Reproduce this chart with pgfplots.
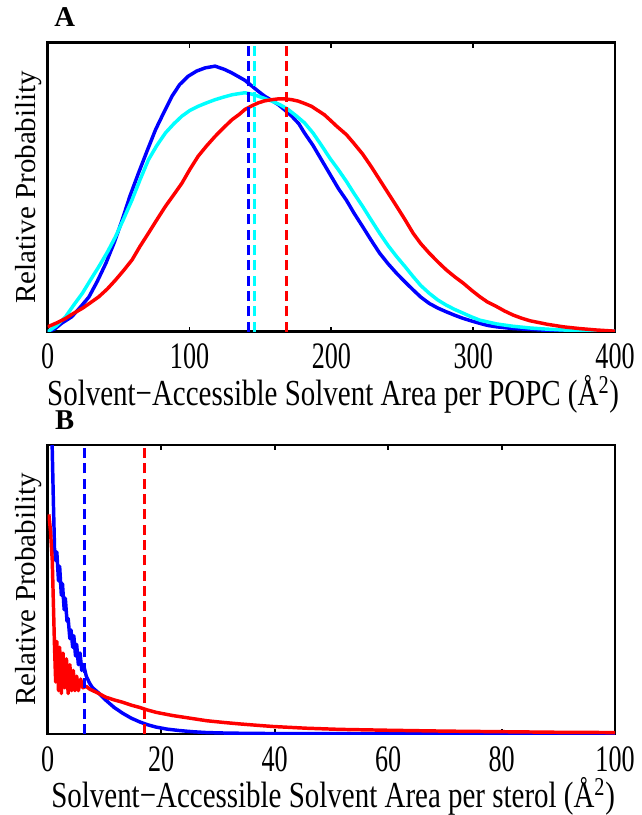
\documentclass[border=0pt]{standalone}
\usepackage{pgfplots}
\pgfplotsset{compat=1.18}
\usepackage{fontspec}
\setmainfont[FakeStretch=0.79]{Liberation Serif}
\newfontfamily\tickfont[FakeStretch=0.70]{Liberation Serif}
\newfontfamily\plainfont{Liberation Serif}
\definecolor{mblue}{rgb}{0,0,1}
\definecolor{mcyan}{rgb}{0,1,1}
\definecolor{mred}{rgb}{1,0,0}
\pgfplotsset{
  myaxis/.style={
    scale only axis, width=425.5pt, height=216.75pt,
    xmin=0, ymin=0, ymax=1,
    ytick=\empty,
    axis line style={line width=2pt},
    tick style={line width=1.4pt, black},
    major tick length=3.75pt,
    tick align=inside,
    xtick pos=both,
    xticklabel pos=lower,
    /pgf/number format/assume math mode=true,
    xticklabel style={font=\tickfont\fontsize{28}{28}\selectfont, anchor=base, yshift=-27.75pt},
    xlabel style={font=\fontsize{27.5}{27.5}\selectfont, at={(axis description cs:0.503,-0.255)}, anchor=base},
    ylabel style={font=\plainfont\fontsize{21.75}{21.75}\selectfont, at={(axis description cs:-0.033,0.5)}, anchor=center},
    every axis title shift=0pt,
    title style={font=\plainfont\fontsize{21.5}{21.5}\selectfont\bfseries, at={(axis description cs:0.030,1)}, anchor=base, yshift=12pt},
    ylabel={Relative Probability},
  },
  curve/.style={line width=2.6pt, line join=round},
  vline/.style={line width=2pt, dash pattern=on 7.5pt off 4pt},
}
\begin{document}
\begin{tikzpicture}
\useasboundingbox (0,0) rectangle (481.5pt,-611.25pt);
\begin{axis}[myaxis, at={(35.8pt,-248.8pt)}, anchor=south west,
  xmax=400, xtick={0,100,200,300,400},
  title={A},
  xlabel={Solvent−Accessible Solvent Area per POPC (Å\textsuperscript{2})}]
\addplot[curve, mblue] coordinates {
(0,0) (5,0.01) (10,0.03) (17,0.052) (23,0.085) (29,0.12) (35,0.175) (41,0.237) (47,0.31) (52.5,0.387)
(58,0.47) (64,0.549) (70,0.625) (76,0.699) (82,0.76) (87.6,0.815) (93,0.855) (99,0.884) (105,0.902)
(111,0.913) (118,0.919) (125,0.907) (130,0.895) (134,0.884) (139,0.87) (144,0.85) (149,0.83) (153,0.815)
(158,0.8) (162.5,0.786) (167,0.768) (172,0.746) (177,0.72) (181,0.688) (187,0.645) (193,0.595) (199,0.545)
(205,0.495) (210.6,0.455) (216,0.41) (222,0.364) (228,0.317) (234,0.272) (240,0.235) (246,0.202) (252,0.172)
(257.6,0.145) (263,0.12) (269,0.098) (275,0.082) (281,0.069) (287,0.057) (293,0.046) (299,0.037)
(304.7,0.029) (310,0.022) (316.5,0.017) (328,0.011) (340,0.008) (352,0.005) (363.5,0.003) (380,0.0015) (400,0.001)};
\addplot[curve, mcyan] coordinates {
(0,0) (6,0.02) (12.6,0.052) (18,0.09) (24.4,0.133) (30,0.178) (36,0.225) (42,0.275) (47.8,0.329)
(53.5,0.39) (59.5,0.457) (65,0.525) (71,0.595) (77,0.645) (83,0.688) (89,0.72) (94.6,0.746) (100,0.765)
(106,0.78) (112,0.792) (118,0.803) (124,0.812) (130,0.82) (135,0.824) (139,0.827) (144,0.822) (148.5,0.815)
(153,0.807) (158,0.798) (164,0.785) (169.5,0.769) (175,0.748) (181,0.723) (187,0.688) (193,0.645) (199,0.6)
(205,0.56) (210.6,0.52) (216,0.478) (222,0.434) (228,0.387) (234,0.341) (240,0.298) (246,0.26) (252,0.225)
(257.6,0.191) (263,0.16) (269,0.133) (275,0.11) (281,0.092) (287,0.077) (293,0.064) (299,0.051) (304.7,0.04)
(316.5,0.027) (328,0.019) (340,0.013) (352,0.009) (363.5,0.006) (380,0.003) (400,0.001)};
\addplot[curve, mred] coordinates {
(0,0.017) (6,0.03) (12.6,0.046) (18,0.063) (24.4,0.081) (30,0.1) (36,0.121) (42,0.148) (47.8,0.179)
(53.5,0.212) (59.5,0.249) (65,0.295) (71,0.341) (77,0.388) (83,0.434) (89,0.475) (94.6,0.514) (100,0.56)
(106,0.607) (112,0.643) (118,0.676) (124,0.706) (130,0.734) (135,0.752) (139,0.769) (144,0.782) (148.5,0.792)
(153,0.799) (158,0.803) (163,0.806) (167,0.806) (172,0.803) (176.6,0.798) (181,0.79) (186,0.78) (190,0.767)
(195,0.751) (199,0.733) (204,0.71) (210.6,0.682) (216,0.651) (222,0.615) (228,0.572) (234,0.526) (240,0.48)
(246,0.434) (252,0.387) (257.6,0.341) (263,0.305) (269,0.272) (275,0.242) (281,0.214) (287,0.19) (293,0.168)
(299,0.143) (304.7,0.121) (310,0.103) (316.5,0.087) (322,0.072) (328,0.058) (334,0.047) (340,0.038)
(352,0.026) (363.5,0.017) (375,0.011) (387,0.006) (400,0.002)};
\addplot[vline, mblue] coordinates {(141.4,0) (141.4,1)};
\addplot[vline, mcyan] coordinates {(146,0) (146,1)};
\addplot[vline, mred] coordinates {(168.2,0) (168.2,1)};
\end{axis}
\begin{axis}[myaxis, at={(35.8pt,-550.5pt)}, anchor=south west,
  xmax=100, xtick={0,20,40,60,80,100},
  title={B},
  xlabel={Solvent−Accessible Solvent Area per sterol (Å\textsuperscript{2})}]
\addplot[curve, mblue] coordinates {
(0.5,1.2) (0.8,0.98) (1.0,0.8) (1.2,0.64) (1.4,0.6) (1.6,0.63) (1.9,0.53) (2.1,0.58) (2.4,0.48) (2.6,0.52)
(2.9,0.43) (3.1,0.47) (3.4,0.39) (3.6,0.40) (3.9,0.33) (4.1,0.36) (4.4,0.30) (4.6,0.34) (4.9,0.27) (5.1,0.31)
(5.4,0.24) (5.7,0.28) (6.0,0.22) (6.3,0.24) (6.8,0.2) (7.4,0.175) (7.9,0.16) (8.8,0.145) (10.3,0.116)
(11.7,0.092) (13.2,0.072) (14.7,0.055) (16.2,0.042) (17.6,0.032) (19.1,0.024) (21,0.017) (23.2,0.012)
(25.5,0.008) (28,0.005) (32,0.003) (40,0.0015) (52,0.001) (70,0.0005) (100,0)};
\addplot[curve, mred] coordinates {
(0.2,0.76) (0.5,0.7) (0.8,0.6) (1.0,0.45) (1.2,0.3) (1.4,0.18) (1.6,0.32) (1.9,0.15) (2.1,0.3) (2.4,0.14)
(2.7,0.28) (3.0,0.16) (3.3,0.26) (3.6,0.14) (3.9,0.24) (4.2,0.15) (4.5,0.22) (4.8,0.15) (5.1,0.2) (5.4,0.15)
(5.8,0.19) (6.2,0.16) (6.8,0.165) (7.4,0.155) (8.5,0.145) (10.3,0.127) (11.7,0.118) (13.2,0.11) (14.7,0.1)
(16.2,0.092) (17.6,0.083) (19.1,0.075) (22,0.064) (25,0.055) (28,0.046) (31,0.04) (33.8,0.035) (37,0.03)
(39.7,0.026) (45.6,0.02) (51.5,0.016) (60,0.013) (70,0.01) (80,0.008) (90,0.006) (100,0.005)};
\addplot[vline, mblue] coordinates {(6.5,0) (6.5,1)};
\addplot[vline, mred] coordinates {(17.0,0) (17.0,1)};
\end{axis}
\end{tikzpicture}
\end{document}
